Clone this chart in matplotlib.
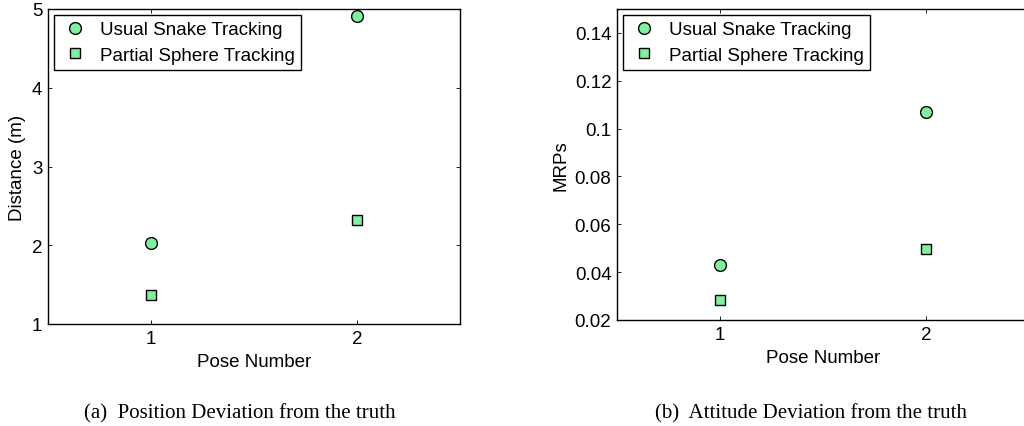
import numpy as np
import matplotlib
matplotlib.use("Agg")
import matplotlib.pyplot as plt

pose = [1, 2]
pos_snake = [2.03, 4.91]
pos_sphere = [1.37, 2.32]
att_snake = [0.043, 0.107]
att_sphere = [0.0285, 0.0495]

labels = ["Usual Snake Tracking", "Partial Sphere Tracking"]
captions = ["(a)  Position Deviation from the truth",
            "(b)  Attitude Deviation from the truth"]

plt.rcParams['font.family'] = ['Liberation Sans', 'DejaVu Sans']
plt.rcParams['font.size'] = 13.5
plt.rcParams['xtick.direction'] = 'in'
plt.rcParams['ytick.direction'] = 'in'
plt.rcParams['xtick.top'] = True
plt.rcParams['ytick.right'] = True

face = '#80F0A0'

fig = plt.figure(figsize=(10.24, 4.27), dpi=100)
ax1 = fig.add_axes([48 / 1024, 102 / 427, 412 / 1024, 315 / 427])
ax2 = fig.add_axes([617 / 1024, 106 / 427, 412 / 1024, 311 / 427])


def scatter_panel(ax, snake, sphere):
    ax.plot(pose, snake, 'o', ms=8.5, mfc=face, mec='k', mew=1.0, label=labels[0])
    ax.plot(pose, sphere, 's', ms=6.5, mfc=face, mec='k', mew=1.0, label=labels[1])
    ax.set_xlim(0.5, 2.5)
    ax.set_xticks(pose)
    ax.set_xlabel("Pose Number", labelpad=5)
    leg = ax.legend(loc='upper left', fancybox=False, framealpha=1,
                    edgecolor='k', borderaxespad=0.3, handletextpad=0.5,
                    borderpad=0.35, labelspacing=0.45, handlelength=1.6)
    leg.get_frame().set_linewidth(1.0)
    for s in ax.spines.values():
        s.set_linewidth(1.0)
    ax.tick_params(length=3, width=0.6, pad=4)


scatter_panel(ax1, pos_snake, pos_sphere)
ax1.set_ylim(1, 5)
ax1.set_yticks([1, 2, 3, 4, 5])
ax1.set_ylabel("Distance (m)")

scatter_panel(ax2, att_snake, att_sphere)
ax2.set_ylim(0.02, 0.15)
ax2.set_yticks([0.02, 0.04, 0.06, 0.08, 0.1, 0.12, 0.14])
ax2.set_yticklabels(['0.02', '0.04', '0.06', '0.08', '0.1', '0.12', '0.14'])
ax2.set_ylabel("MRPs")

fig.text(240 / 1024, 1 - 414 / 427, captions[0], ha='center', va='center',
         family='Liberation Serif', fontsize=15)
fig.text(811 / 1024, 1 - 414 / 427, captions[1], ha='center', va='center',
         family='Liberation Serif', fontsize=15)

fig.savefig("out.png", dpi=100)
